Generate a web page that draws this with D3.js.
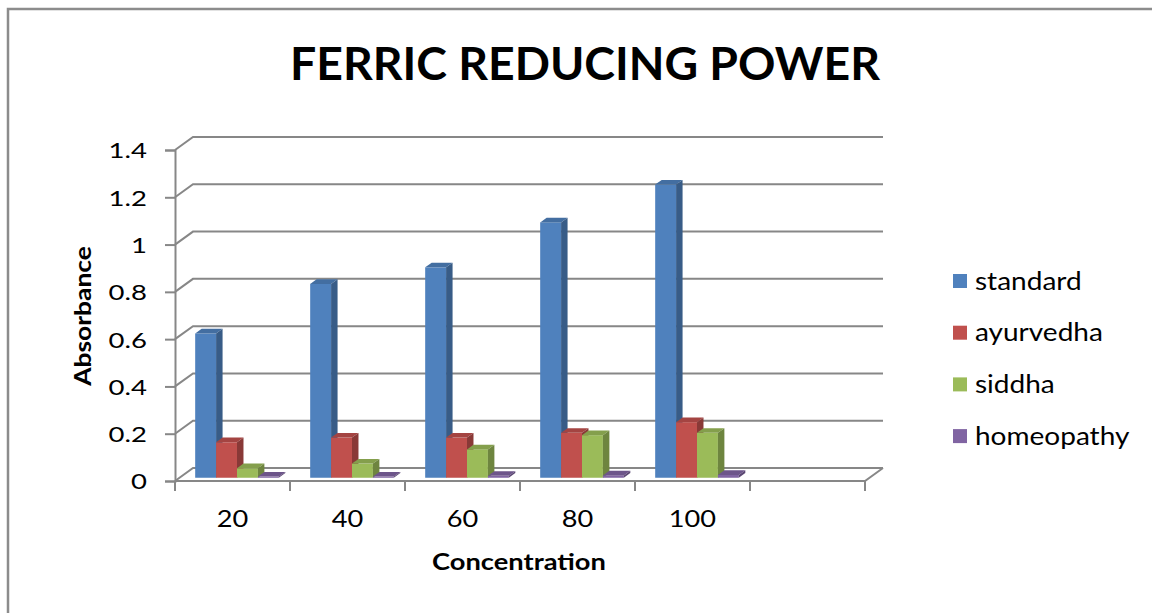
<!DOCTYPE html>
<html>
<head>
<meta charset="utf-8">
<script src="https://cdn.jsdelivr.net/npm/d3@7"></script>
<style>
  body { margin: 0; background: #fff; }
  svg { display: block; }
  text { font-family: Lato, "Open Sans", sans-serif; fill: #000; }
</style>
</head>
<body>
<div id="chart"></div>
<script>
// values
var categories = ['20', '40', '60', '80', '100'];
var seriesNames = ['standard', 'ayurvedha', 'siddha', 'homeopathy'];
var standard = [0.61, 0.82, 0.89, 1.08, 1.24];
var ayurvedha = [0.15, 0.17, 0.17, 0.19, 0.235];
var siddha = [0.04, 0.06, 0.12, 0.18, 0.19];
var homeopathy = [0.005, 0.005, 0.008, 0.01, 0.012];
var yTicks = [0, 0.2, 0.4, 0.6, 0.8, 1, 1.2, 1.4];
var colors = ['#4F81BD', '#C0504D', '#9BBB59', '#8064A2'];

var seriesValues = [standard, ayurvedha, siddha, homeopathy];

var W = 1152, H = 613;
var svg = d3.select('#chart').append('svg').attr('width', W).attr('height', H);

// fake 3d: the back wall is shifted by (dx, dy) from the front plane
var depth = { dx: 18, dy: -13 };
var barFront = 0.25, barDepth = 0.36;
var gridColor = '#878787';

// the original text is set wider than Lato, so widen it a bit
function widen(sel, k) {
  sel.each(function() {
    var w = this.getComputedTextLength();
    d3.select(this).attr('textLength', w * k).attr('lengthAdjust', 'spacingAndGlyphs');
  });
}

// an empty sixth slot, the way the original axis has one
var x = d3.scaleBand().domain(categories.concat([' '])).range([175, 865]);
var y = d3.scaleLinear().domain([0, 1.4]).range([481, 150]);
var inner = d3.scaleBand().domain(seriesNames).range([0, x.bandwidth()]).paddingOuter(0.75);

// outer frame
svg.append('path')
  .attr('d', 'M8,' + H + 'V9H' + W)
  .attr('fill', 'none').attr('stroke', '#8c8c8c').attr('stroke-width', 2.5);

svg.append('text')
  .attr('x', 585).attr('y', 80)
  .attr('text-anchor', 'middle')
  .style('font-size', '45px').style('font-weight', 'bold')
  .text('FERRIC REDUCING POWER')
  .call(widen, 1.03);

// walls: back gridlines + the left wall diagonals
var grid = svg.append('g').attr('fill', 'none').attr('stroke', gridColor).attr('stroke-width', 2);
yTicks.forEach(function(t) {
  var yy = y(t);
  grid.append('path')
    .attr('d', 'M' + x.range()[0] + ',' + yy +
      'L' + (x.range()[0] + depth.dx) + ',' + (yy + depth.dy) +
      'H' + (x.range()[1] + depth.dx));
});
// floor, front edge and right edge
grid.append('path')
  .attr('d', 'M' + x.range()[0] + ',' + y(0) + 'H' + x.range()[1] +
    'l' + depth.dx + ',' + depth.dy);

// y axis
var yAxis = svg.append('g')
  .attr('transform', 'translate(' + x.range()[0] + ',0)')
  .call(d3.axisLeft(y).tickValues(yTicks).tickSize(10).tickPadding(18)
    .tickFormat(function(d) { return String(d); }));
yAxis.select('.domain').attr('stroke', gridColor).attr('stroke-width', 2);
yAxis.selectAll('.tick line').attr('stroke', gridColor).attr('stroke-width', 2);
yAxis.selectAll('.tick text')
  .style('font-size', '22px').style('font-family', 'Lato, sans-serif')
  .attr('fill', '#000').attr('dy', '0.36em')
  .call(widen, 1.25);

// x axis: ticks sit at the category boundaries
var bounds = x.domain().map(function(c) { return x(c); }).concat([x.range()[1]]);
svg.append('g').selectAll('line').data(bounds).join('line')
  .attr('x1', function(d) { return d; }).attr('x2', function(d) { return d; })
  .attr('y1', y(0)).attr('y2', y(0) + 10)
  .attr('stroke', gridColor).attr('stroke-width', 2);
svg.append('g').selectAll('text').data(categories).join('text')
  .attr('x', function(d) { return x(d) + x.bandwidth() / 2; })
  .attr('y', 527)
  .attr('text-anchor', 'middle')
  .style('font-size', '23px')
  .text(function(d) { return d; })
  .call(widen, 1.18);

// bars, left to right so the next front face covers the previous side face
var sx = depth.dx * barFront, sy = depth.dy * barFront;
var ddx = depth.dx * barDepth, ddy = depth.dy * barDepth;
var bars = svg.append('g');
categories.forEach(function(cat, i) {
  seriesNames.forEach(function(name, s) {
    var v = seriesValues[s][i];
    var x0 = x(cat) + inner(name) + sx;
    var w = inner.bandwidth();
    var yt = y(v) + sy, yb = y(0) + sy;
    var c = d3.color(colors[s]);
    var g = bars.append('g');
    g.append('rect')
      .attr('x', x0).attr('y', yt).attr('width', w).attr('height', yb - yt)
      .attr('fill', colors[s]);
    g.append('path')
      .attr('d', 'M' + x0 + ',' + yt + 'h' + w + 'l' + ddx + ',' + ddy + 'h' + (-w) + 'Z')
      .attr('fill', c.darker(0.45));
    g.append('path')
      .attr('d', 'M' + (x0 + w) + ',' + yt + 'l' + ddx + ',' + ddy + 'V' + (yb + ddy) + 'l' + (-ddx) + ',' + (-ddy) + 'Z')
      .attr('fill', c.darker(0.95));
  });
});

// axis titles
svg.append('text')
  .attr('transform', 'translate(91,316) rotate(-90)')
  .attr('text-anchor', 'middle')
  .style('font-size', '22px').style('font-weight', 'bold')
  .text('Absorbance')
  .call(widen, 1.2);
svg.append('text')
  .attr('x', 519).attr('y', 570)
  .attr('text-anchor', 'middle')
  .style('font-size', '22px').style('font-weight', 'bold')
  .text('Concentration')
  .call(widen, 1.24);

// legend
var legend = svg.append('g').selectAll('g').data(seriesNames).join('g')
  .attr('transform', function(d, i) { return 'translate(953,' + (281 + i * 51.7) + ')'; });
legend.append('rect')
  .attr('x', 0).attr('y', -7).attr('width', 14).attr('height', 14)
  .attr('fill', function(d, i) { return colors[i]; });
legend.append('text')
  .attr('x', 22).attr('dy', '0.35em')
  .style('font-size', '25px')
  .text(function(d) { return d; })
  .call(widen, 1.12);
</script>
</body>
</html>
